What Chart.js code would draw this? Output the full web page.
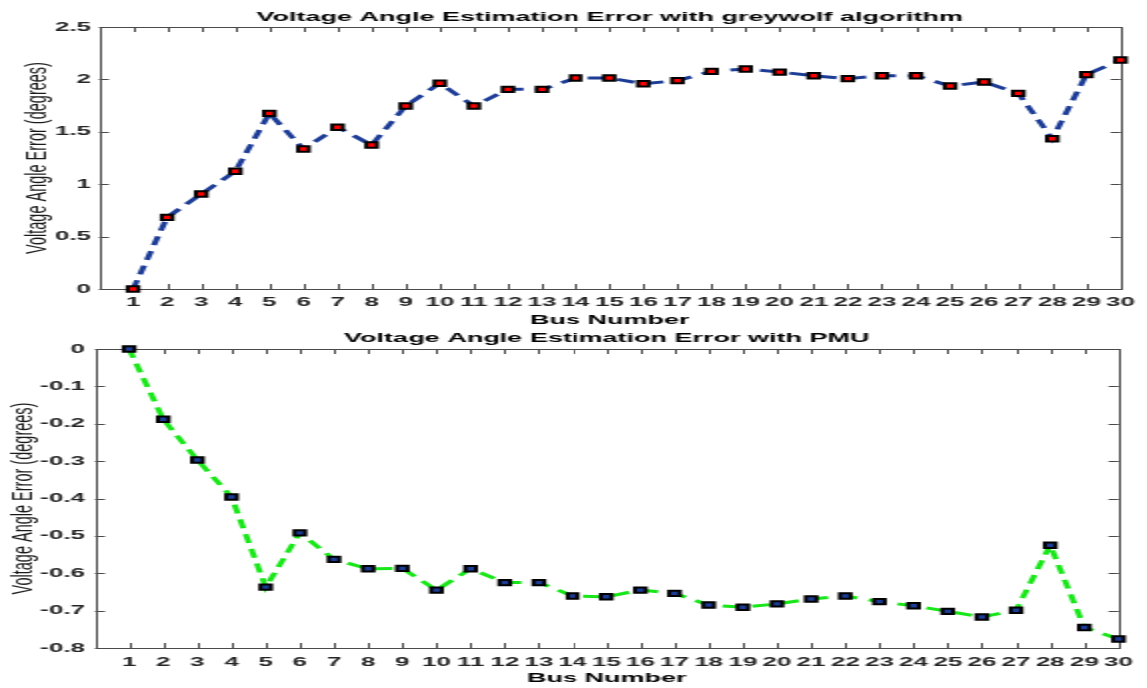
<!DOCTYPE html>
<html>
<head>
<meta charset="utf-8">
<title>Voltage Angle Estimation Error</title>
<script src="https://cdn.jsdelivr.net/npm/chart.js@4.4.1/dist/chart.umd.min.js"></script>
<style>
  html, body { margin: 0; padding: 0; background: #fff; overflow: hidden; }
  /* figure is drawn narrow and stretched horizontally */
  #wrap { position: absolute; left: 0; top: 0; width: 574px; height: 688px;
          transform-origin: 0 0; transform: scaleX(1.99826); }
  canvas { display: block; position: absolute; left: 0; }
  #topChart { top: 0; }
  #bottomChart { top: 330px; }
</style>
</head>
<body>
<div id="wrap">
  <canvas id="topChart" width="574" height="330"></canvas>
  <canvas id="bottomChart" width="574" height="358"></canvas>
</div>
<script>
// Bus numbers of the 30-bus system
const busNumbers = [1, 2, 3, 4, 5, 6, 7, 8, 9, 10, 11, 12, 13, 14, 15,
                    16, 17, 18, 19, 20, 21, 22, 23, 24, 25, 26, 27, 28, 29, 30];

// Voltage angle error (degrees), grey wolf estimator
const greywolfError = [0, 0.684, 0.906, 1.123, 1.676, 1.336, 1.543, 1.374, 1.746, 1.963,
                       1.746, 1.905, 1.905, 2.013, 2.013, 1.959, 1.988, 2.077, 2.099, 2.070,
                       2.035, 2.007, 2.035, 2.035, 1.937, 1.975, 1.867, 1.434, 2.045, 2.185];

// Voltage angle error (degrees), PMU-based estimator
const pmuError = [0, -0.188, -0.297, -0.396, -0.637, -0.492, -0.563, -0.588, -0.587, -0.645,
                  -0.588, -0.625, -0.625, -0.661, -0.663, -0.645, -0.654, -0.685, -0.691, -0.682,
                  -0.669, -0.661, -0.676, -0.687, -0.702, -0.717, -0.699, -0.525, -0.745, -0.776];

// Y tick values
const greywolfTicks = [0, 0.5, 1, 1.5, 2, 2.5];
const pmuTicks = [0, -0.1, -0.2, -0.3, -0.4, -0.5, -0.6, -0.7, -0.8];

const FONT = "'Liberation Sans', Arial, Helvetica, sans-serif";

// Box around the plot area with inward tick marks on all four sides
const frameTicks = {
  id: 'frameTicks',
  beforeDatasetsDraw(chart, args, opts) {
    const { ctx, chartArea: a, scales: { x, y } } = chart;
    const L = opts.length;
    ctx.save();
    ctx.strokeStyle = opts.color;
    ctx.lineWidth = 1;
    ctx.beginPath();
    x.ticks.forEach(t => {
      const px = Math.round(x.getPixelForValue(t.value)) + 0.5;
      ctx.moveTo(px, a.bottom); ctx.lineTo(px, a.bottom - L);
      ctx.moveTo(px, a.top); ctx.lineTo(px, a.top + L);
    });
    y.ticks.forEach(t => {
      const py = Math.round(y.getPixelForValue(t.value)) + 0.5;
      ctx.moveTo(a.left, py); ctx.lineTo(a.left + L, py);
      ctx.moveTo(a.right, py); ctx.lineTo(a.right - L, py);
    });
    ctx.stroke();
    ctx.strokeRect(Math.round(a.left) + 0.5, Math.round(a.top) + 0.5,
                   Math.round(a.right - a.left), Math.round(a.bottom - a.top));
    ctx.restore();
  }
};

function makeChart(canvas, o) {
  return new Chart(canvas, {
    type: 'line',
    data: {
      datasets: [{
        data: busNumbers.map((b, i) => ({ x: b, y: o.values[i] })),
        borderColor: o.lineColor,
        borderWidth: 3,
        borderDash: [9, 6],
        borderCapStyle: 'butt',
        tension: 0,
        fill: false,
        pointStyle: 'rect',
        pointRadius: 3.8,
        pointHoverRadius: 3.8,
        pointBackgroundColor: o.markerFill,
        pointBorderColor: '#000',
        pointBorderWidth: 2,
        clip: false
      }]
    },
    options: {
      responsive: false,
      animation: false,
      events: [],
      layout: { padding: { left: 0, right: 10, top: 0, bottom: 0 } },
      plugins: {
        legend: { display: false },
        tooltip: { enabled: false },
        title: {
          display: true,
          text: o.title,
          fullSize: false,
          color: '#000',
          font: { family: FONT, size: 13.5, weight: 'bold' },
          padding: o.titlePad
        },
        frameTicks: { color: '#4a4a4a', length: 5 }
      },
      scales: {
        x: {
          type: 'linear',
          min: 0, max: 30,
          grid: { display: false, drawTicks: false },
          border: { display: false },
          afterBuildTicks: s => { s.ticks = busNumbers.map(v => ({ value: v })); },
          afterFit: s => { s.height = o.xHeight; },
          ticks: {
            autoSkip: false,
            maxRotation: 0,
            padding: o.xTickPad,
            color: '#262626',
            font: { family: FONT, size: 13, weight: 'bold' },
            callback: v => String(v)
          },
          title: {
            display: true,
            text: 'Bus Number',
            color: '#000',
            font: { family: FONT, size: 13.5, weight: 'bold' },
            padding: { top: 0, bottom: 1.9 }
          }
        },
        y: {
          type: 'linear',
          min: o.yMin, max: o.yMax,
          grid: { display: false, drawTicks: false },
          border: { display: false },
          afterBuildTicks: s => { s.ticks = o.yTicks.map(v => ({ value: v })); },
          afterFit: s => { s.width = o.yWidth; },
          ticks: {
            padding: o.yTickPad,
            color: '#262626',
            font: { family: FONT, size: 13, weight: 'bold' },
            callback: v => String(Math.round(v * 10) / 10)
          },
          title: {
            display: true,
            text: 'Voltage Angle Error (degrees)',
            color: '#1a1a1a',
            font: { family: FONT, size: 14.5, weight: 'normal' },
            padding: { top: o.yTitlePad, bottom: 0 }
          }
        }
      }
    },
    plugins: [frameTicks]
  });
}

makeChart(document.getElementById('topChart'), {
  values: greywolfError,
  title: 'Voltage Angle Estimation Error with greywolf algorithm',
  titlePad: { top: 9.6, bottom: 1.2 },
  lineColor: '#1c3c96',
  markerFill: '#ff0000',
  yMin: 0, yMax: 2.5, yTicks: greywolfTicks,
  yWidth: 49.5, yTickPad: 4, yTitlePad: 9.8,
  xHeight: 41, xTickPad: 6
});

makeChart(document.getElementById('bottomChart'), {
  values: pmuError,
  title: 'Voltage Angle Estimation Error with PMU',
  titlePad: { top: 0, bottom: 2.8 },
  lineColor: '#19e619',
  markerFill: '#1c3c96',
  yMin: -0.8, yMax: 0, yTicks: pmuTicks,
  yWidth: 47.5, yTickPad: 5, yTitlePad: 3.3,
  xHeight: 40, xTickPad: 7
});
</script>
</body>
</html>
